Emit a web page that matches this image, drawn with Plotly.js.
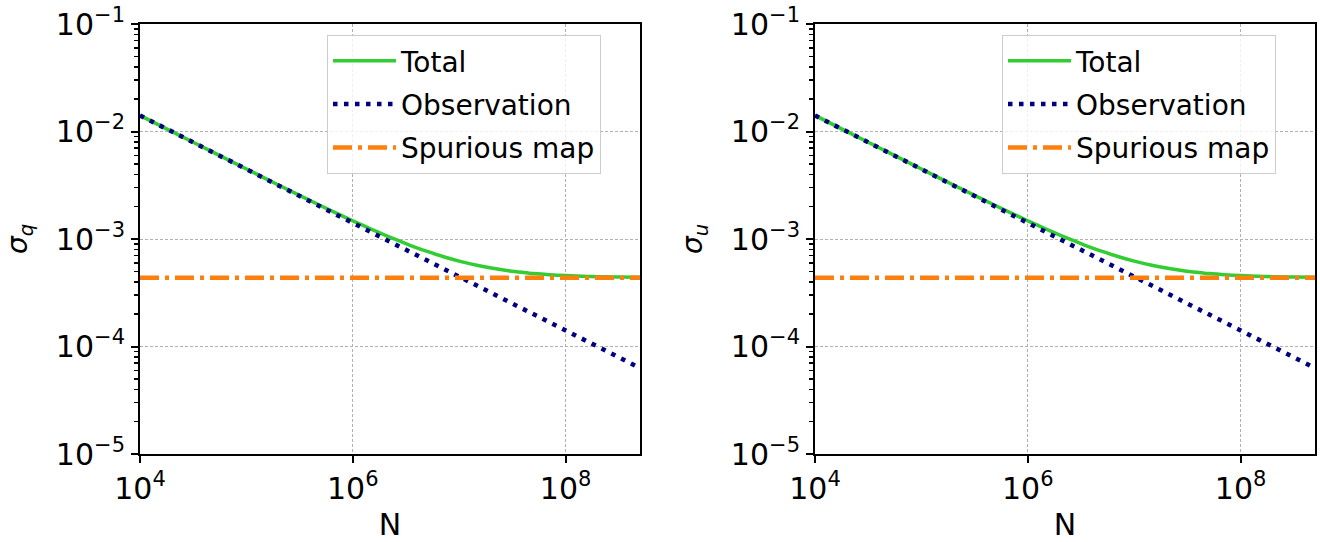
<!DOCTYPE html>
<html><head><meta charset="utf-8">
<script src="https://cdn.plot.ly/plotly-3.0.1.min.js"></script>
<style>html,body{margin:0;padding:0;background:#fff}</style>
</head><body><div id="chart" style="width:1320px;height:542px"></div>
<script>
// Data
const N = [1e4, 2e4, 5e4, 1e5, 2e5, 5e5, 1e6, 1.5e6, 2e6, 3e6, 4e6, 5e6, 7e6, 1e7, 1.5e7, 2e7, 3e7, 4e7, 5e7, 7e7, 1e8, 2e8, 5e8];
const sigmaTotal = [1.411e-2, 9.98e-3, 6.32e-3, 4.48e-3, 3.18e-3, 2.04e-3, 1.475e-3, 1.23e-3, 1.088e-3, 9.23e-4, 8.27e-4, 7.66e-4, 6.88e-4, 6.23e-4, 5.67e-4, 5.37e-4, 5.05e-4, 4.89e-4, 4.78e-4, 4.66e-4, 4.57e-4, 4.46e-4, 4.40e-4];
const sigmaObs = [1.41e-2, 9.97e-3, 6.31e-3, 4.46e-3, 3.15e-3, 1.99e-3, 1.41e-3, 1.151e-3, 9.97e-4, 8.14e-4, 7.05e-4, 6.31e-4, 5.33e-4, 4.46e-4, 3.64e-4, 3.15e-4, 2.57e-4, 2.23e-4, 1.99e-4, 1.69e-4, 1.41e-4, 9.97e-5, 6.31e-5];
const spurN = [1e4, 5e8];
const sigmaSpur = [4.35e-4, 4.35e-4];
const seriesNames = ['Total', 'Observation', 'Spurious map'];
const xTickVals = [1e4, 1e6, 1e8];
const xTickText = ['10<sup>4</sup>', '10<sup>6</sup>', '10<sup>8</sup>'];
const yTickVals = [1e-5, 1e-4, 1e-3, 1e-2, 1e-1];
const yTickText = ['10<sup>−5</sup>', '10<sup>−4</sup>', '10<sup>−3</sup>', '10<sup>−2</sup>', '10<sup>−1</sup>'];
const yMinorVals = [];
[1e-5, 1e-4, 1e-3, 1e-2].forEach(d => { for (let k = 2; k <= 9; k++) yMinorVals.push(+(d * k).toPrecision(3)); });
const xTitle = 'N';
const yTitles = ['<i>σ</i><sub><i>q</i></sub>', '<i>σ</i><sub><i>u</i></sub>'];

const FONT = 'DejaVu Sans, Liberation Sans, sans-serif';
const traces = [];
['', '2'].forEach((s, i) => {
  const common = {xaxis: 'x' + s, yaxis: 'y' + s, legend: i === 0 ? 'legend' : 'legend2', mode: 'lines', hoverinfo: 'skip'};
  traces.push(Object.assign({x: N, y: sigmaTotal, name: seriesNames[0], legendgroup: 'a' + i,
    line: {color: '#32cd32', width: 3.5, shape: 'spline', smoothing: 0.6}}, common));
  traces.push(Object.assign({x: N, y: sigmaObs, name: seriesNames[1], legendgroup: 'b' + i,
    line: {color: '#000080', width: 4.5, dash: '4.5px,6.5px'}}, common));
  traces.push(Object.assign({x: spurN, y: sigmaSpur, name: seriesNames[2], legendgroup: 'c' + i,
    line: {color: '#ff7f0e', width: 4.5, dash: '19px,6px,4px,6px'}}, common));
});

const W = 1320, H = 542;
const xd = [[140 / W, 640 / W], [815 / W, 1315 / W]];
const yd = [(H - 454) / H, (H - 24) / H];

function xax(i) {
  return {
    type: 'log', range: [4, Math.log10(5e8)], domain: xd[i], anchor: i === 0 ? 'y' : 'y2',
    tickmode: 'array', tickvals: xTickVals, ticktext: xTickText,
    ticks: 'outside', ticklen: 7, tickwidth: 2, tickcolor: '#000',
    tickfont: {family: FONT, size: 30, color: '#000'},
    showline: true, linewidth: 2, linecolor: '#000', mirror: true,
    showgrid: true, gridcolor: '#b0b0b0', gridwidth: 1, griddash: '3px,2px',
    zeroline: false, automargin: false,
    title: {text: xTitle, font: {family: FONT, size: 30, color: '#000'}, standoff: 12}
  };
}
function yax(i) {
  return {
    type: 'log', range: [-5, -1], domain: yd, anchor: i === 0 ? 'x' : 'x2',
    tickmode: 'array', tickvals: yTickVals, ticktext: yTickText,
    ticks: 'outside', ticklen: 7, tickwidth: 2, tickcolor: '#000',
    tickfont: {family: FONT, size: 30, color: '#000'},
    minor: {tickmode: 'array', tickvals: yMinorVals, ticks: 'outside', ticklen: 4, tickwidth: 1.5, tickcolor: '#000', showgrid: false},
    showline: true, linewidth: 2, linecolor: '#000', mirror: true,
    showgrid: true, gridcolor: '#b0b0b0', gridwidth: 1, griddash: '3px,2px',
    zeroline: false, automargin: false,
    title: {text: yTitles[i], font: {family: FONT, size: 28, color: '#000'}, standoff: 20}
  };
}
function leg(i) {
  return {
    x: (i === 0 ? 327 : 1002) / W, y: 1 - 35 / H, xanchor: 'left', yanchor: 'top',
    bgcolor: 'rgba(255,255,255,0.8)', bordercolor: '#cccccc', borderwidth: 1,
    font: {family: FONT, size: 28, color: '#000'}, itemwidth: 63, tracegroupgap: 4,
    traceorder: 'grouped'
  };
}
const layout = {
  width: W, height: H, margin: {l: 0, r: 0, t: 0, b: 0},
  paper_bgcolor: '#fff', plot_bgcolor: '#fff', showlegend: true,
  xaxis: xax(0), yaxis: yax(0), xaxis2: xax(1), yaxis2: yax(1),
  legend: leg(0), legend2: leg(1)
};
Plotly.newPlot('chart', traces, layout, {displayModeBar: false, staticPlot: true});
</script></body></html>
